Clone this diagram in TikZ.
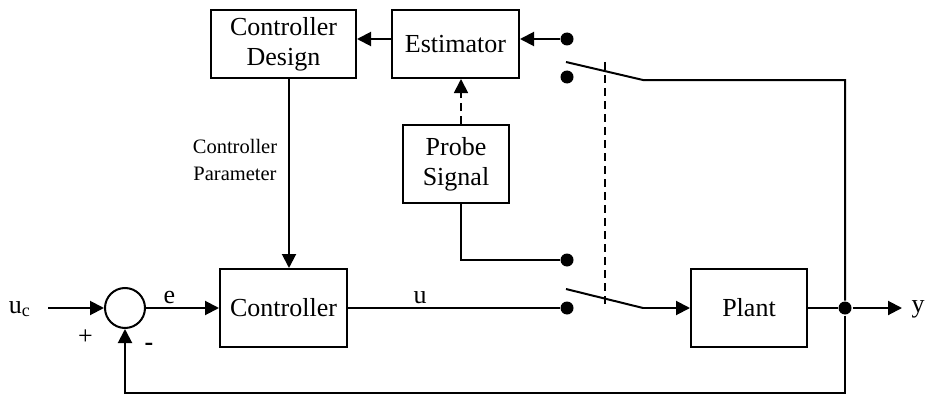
\documentclass[tikz,border=0pt]{standalone}
\usepackage{fontspec}
\setmainfont{Liberation Serif}
\usetikzlibrary{arrows.meta}
\begin{document}
\begin{tikzpicture}[x=1pt,y=-1pt,line width=2pt,
  blk/.style={draw,inner sep=0pt,align=center,font=\fontsize{26}{30}\selectfont},
  arr/.style={-{Triangle[length=14pt,width=14pt]}},
  dot/.style={circle,fill,inner sep=0pt,minimum size=13pt},
  lbl/.style={font=\fontsize{26}{30}\selectfont,inner sep=0pt}]
\useasboundingbox (0,0) rectangle (926,396);
% blocks
\node[blk,minimum width=145pt,minimum height=68pt] (cd) at (283.5,44) {Controller\\Design};
\node[blk,minimum width=127pt,minimum height=68pt] (est) at (455.5,44) {Estimator};
\node[blk,minimum width=106pt,minimum height=78pt] (probe) at (456,164) {Probe\\Signal};
\node[blk,minimum width=127pt,minimum height=78pt] (ctrl) at (283.5,308) {Controller};
\node[blk,minimum width=116pt,minimum height=78pt] (plant) at (749,308) {Plant};
\node[draw,circle,inner sep=0pt,minimum size=40pt] (sum) at (125,308) {};
% dots
\node[dot] (d1) at (567,39) {};
\node[dot] (d2) at (567,77) {};
\node[dot] (d3) at (567,260) {};
\node[dot] (d4) at (567,308) {};
\node[dot] (j) at (845,308) {};
% helper coordinates
\coordinate (cp) at (289,0);
\coordinate (pa) at (461,0);
\coordinate (s1a) at (566,62);
\coordinate (s1b) at (643,80);
\coordinate (s1c) at (845,80);
\coordinate (s2a) at (566,289);
\coordinate (s2b) at (643,308);
\coordinate (fb) at (845,393);
\coordinate (uin) at (48,308);
\coordinate (yout) at (902,308);
\coordinate (dt) at (605,62);
\coordinate (db) at (605,308);
% labels
\node[lbl,anchor=base west] (uc) at (8,313) {u\raisebox{-0.3ex}{\fontsize{18}{18}\selectfont c}};
\node[lbl] (plus) at (85.5,337.5) {+};
\node[lbl,font=\bfseries\fontsize{26}{30}\selectfont] (minus) at (149,347) {-};
\node[lbl,anchor=base] (e) at (169.5,303) {e};
\node[lbl,anchor=base] (u) at (420,303) {u};
\node[lbl,anchor=base] (y) at (918,312) {y};
\node[align=center,inner sep=0pt,font=\fontsize{20.5}{27}\selectfont] (cpar) at (235,160) {Controller\\Parameter};
% connectors
\draw[arr] (est.west |- d1) -- (cd.east |- d1);
\draw[arr] (d1) -- (est.east |- d1);
\draw[arr] (cd.south -| cp) -- (ctrl.north -| cp);
\draw[arr,dash pattern=on 8pt off 5pt,line width=1.8pt] (probe.north -| pa) -- (est.south -| pa);
\draw (probe.south -| pa) |- (d3);
\draw (s1a) -- (s1b) -- (s1c) -- (j);
\draw (ctrl.east) -- (d4);
\draw (s2a) -- (s2b);
\draw[arr] (s2b) -- (plant.west);
\draw[dash pattern=on 8pt off 5pt,line width=1.8pt] (dt) -- (db);
\draw[arr] (uin) -- (sum.west);
\draw[arr] (sum.east) -- (ctrl.west);
\draw (plant.east) -- (j);
\draw[arr] (j) -- (yout);
\draw[arr] (j) -- (fb) -| (sum.south);
\end{tikzpicture}
\end{document}
